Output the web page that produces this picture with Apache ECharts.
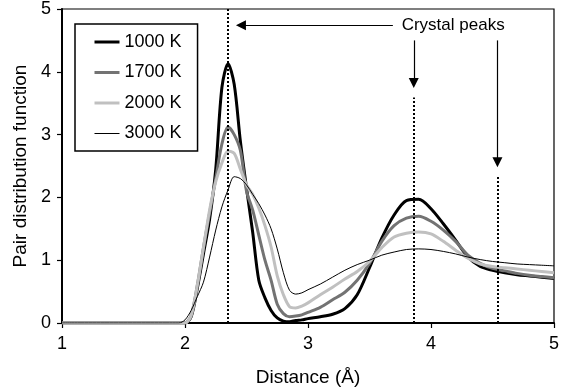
<!DOCTYPE html>
<html>
<head>
<meta charset="utf-8">
<script src="https://cdn.jsdelivr.net/npm/echarts@6/dist/echarts.min.js"></script>
<style>
html,body{margin:0;padding:0;background:#fff;}
#c{width:562px;height:392px;}
</style>
</head>
<body>
<div id="c"></div>
<script>
// Distance values (Å)
const xs = [1.0, 1.9, 1.95, 2.0, 2.05, 2.1, 2.15, 2.2, 2.25, 2.3, 2.35, 2.4, 2.45, 2.5, 2.55, 2.6, 2.65, 2.7, 2.75, 2.8, 2.85, 2.9, 2.95, 3.0, 3.1, 3.2, 3.3, 3.4, 3.5, 3.6, 3.7, 3.8, 3.9, 4.0, 4.1, 4.2, 4.3, 4.4, 4.5, 4.6, 4.7, 4.8, 4.9, 5.0];
const g1000 = [0, 0, 0, 0, 0.1, 0.55, 1.1, 1.65, 2.45, 3.75, 4.13, 3.8, 2.9, 2.15, 1.45, 0.68, 0.4, 0.2, 0.08, 0.03, 0.02, 0.04, 0.05, 0.07, 0.1, 0.14, 0.23, 0.45, 0.88, 1.35, 1.72, 1.95, 1.97, 1.82, 1.58, 1.32, 1.05, 0.9, 0.84, 0.8, 0.77, 0.75, 0.73, 0.71];
const g1700 = [0, 0, 0, 0, 0.12, 0.6, 1.2, 1.75, 2.3, 2.85, 3.12, 3.0, 2.75, 2.1, 1.8, 1.4, 1.0, 0.68, 0.3, 0.15, 0.1, 0.11, 0.13, 0.17, 0.25, 0.37, 0.49, 0.68, 0.95, 1.3, 1.55, 1.67, 1.7, 1.62, 1.48, 1.3, 1.08, 0.95, 0.87, 0.83, 0.79, 0.76, 0.74, 0.72];
const g2000 = [0, 0, 0, 0, 0.12, 0.6, 1.2, 1.8, 2.25, 2.55, 2.74, 2.7, 2.45, 2.2, 2.05, 1.83, 1.55, 1.21, 0.75, 0.45, 0.26, 0.24, 0.27, 0.32, 0.45, 0.57, 0.7, 0.82, 0.98, 1.2, 1.37, 1.43, 1.45, 1.42, 1.3, 1.16, 1.03, 0.94, 0.9, 0.88, 0.86, 0.84, 0.82, 0.8];
const g3000 = [0, 0, 0, 0.05, 0.2, 0.42, 0.65, 1.05, 1.48, 1.85, 2.12, 2.33, 2.3, 2.2, 2.05, 1.9, 1.72, 1.5, 1.18, 0.8, 0.52, 0.46, 0.48, 0.53, 0.62, 0.73, 0.84, 0.93, 1.0, 1.08, 1.13, 1.17, 1.18, 1.17, 1.14, 1.1, 1.05, 1.01, 0.98, 0.96, 0.94, 0.93, 0.92, 0.91];
const seriesNames = ['1000 K', '1700 K', '2000 K', '3000 K'];
// Crystal peak positions (Å) and heights of the dotted markers
const peakX = [2.35, 3.86, 4.54];
const peakTop = [5, 3.59, 2.35];
const annotationText = 'Crystal peaks';

const pairs = ys => xs.map((x, i) => [x, ys[i]]);
const styles = [
  {color: '#000000', width: 3},
  {color: '#737373', width: 3},
  {color: '#c0c0c0', width: 3},
  {color: '#000000', width: 1}
];
const datas = [g1000, g1700, g2000, g3000];

const series = datas.map((d, i) => ({
  name: seriesNames[i],
  type: 'line',
  data: pairs(d),
  showSymbol: false,
  symbol: 'none',
  smooth: 0.3,
  color: styles[i].color,
  lineStyle: {color: styles[i].color, width: styles[i].width},
  z: 3
}));

const dotted = {color: '#000', width: 2, type: [2, 2]};
const solid = {color: '#000', width: 1.2, type: 'solid'};
series.push({
  name: 'annot',
  type: 'line',
  data: [],
  silent: true,
  z: 4,
  markLine: {
    silent: true,
    symbol: ['none', 'none'],
    label: {show: false},
    animation: false,
    data: [
      [{coord: [peakX[0], 0], lineStyle: dotted}, {coord: [peakX[0], peakTop[0]]}],
      [{coord: [peakX[1], 0], lineStyle: dotted}, {coord: [peakX[1], peakTop[1]]}],
      [{coord: [peakX[2], 0], lineStyle: dotted}, {coord: [peakX[2], peakTop[2]]}],
      [{coord: [3.69, 4.74], lineStyle: solid, symbol: 'none'}, {coord: [2.455, 4.74], symbol: 'triangle', symbolSize: 10}],
      [{coord: [3.86, 4.5], lineStyle: solid, symbol: 'none'}, {coord: [3.86, 3.82], symbol: 'triangle', symbolSize: 10}],
      [{coord: [4.54, 4.5], lineStyle: solid, symbol: 'none'}, {coord: [4.54, 2.56], symbol: 'triangle', symbolSize: 10}]
    ]
  },
  markPoint: {
    silent: true,
    symbolSize: 0,
    animation: false,
    data: [{coord: [4.18, 4.74], value: 0}],
    label: {show: true, position: 'inside', formatter: annotationText, color: '#000', fontSize: 17, fontFamily: 'Liberation Sans, Arial, sans-serif'}
  }
});

const chart = echarts.init(document.getElementById('c'), null, {renderer: 'canvas'});
const font = 'Liberation Sans, Arial, sans-serif';
chart.setOption({
  animation: false,
  backgroundColor: '#fff',
  textStyle: {fontFamily: font},
  grid: {left: 62, right: 5, top: 9, bottom: 69, show: true, borderColor: '#000', borderWidth: 1.2, backgroundColor: 'transparent'},
  legend: {
    data: seriesNames.map((n, i) => ({name: n, lineStyle: {color: styles[i].color, width: styles[i].width}})),
    orient: 'vertical',
    left: 75,
    top: 24,
    itemWidth: 25,
    itemHeight: 14,
    itemGap: 12.5,
    padding: [9, 16, 8.5, 18],
    backgroundColor: '#fff',
    borderColor: '#000',
    borderWidth: 1.5,
    borderRadius: 0,
    itemStyle: {color: 'rgba(0,0,0,0)', borderColor: 'rgba(0,0,0,0)', borderWidth: 0, opacity: 0},
    textStyle: {fontSize: 18, color: '#000', fontFamily: font},
    selectedMode: false
  },
  xAxis: {
    type: 'value', min: 1, max: 5, interval: 1,
    name: 'Distance (Å)', nameLocation: 'middle', nameGap: 45,
    nameTextStyle: {fontSize: 19, color: '#000', fontFamily: font},
    axisLine: {show: true, onZero: false, lineStyle: {color: '#000', width: 2}},
    axisTick: {show: true, inside: false, length: 5, lineStyle: {color: '#000', width: 1.2}},
    axisLabel: {fontSize: 18, color: '#000', margin: 12, fontFamily: font},
    splitLine: {show: false}
  },
  yAxis: {
    type: 'value', min: 0, max: 5, interval: 1,
    name: 'Pair distribution function', nameLocation: 'middle', nameGap: 31,
    nameTextStyle: {fontSize: 19, color: '#000', fontFamily: font},
    axisLine: {show: true, lineStyle: {color: '#000', width: 2}},
    axisTick: {show: true, inside: false, length: 5, lineStyle: {color: '#000', width: 1.2}},
    axisLabel: {fontSize: 18, color: '#000', margin: 11, fontFamily: font},
    splitLine: {show: false}
  },
  series: series
});
</script>
</body>
</html>
